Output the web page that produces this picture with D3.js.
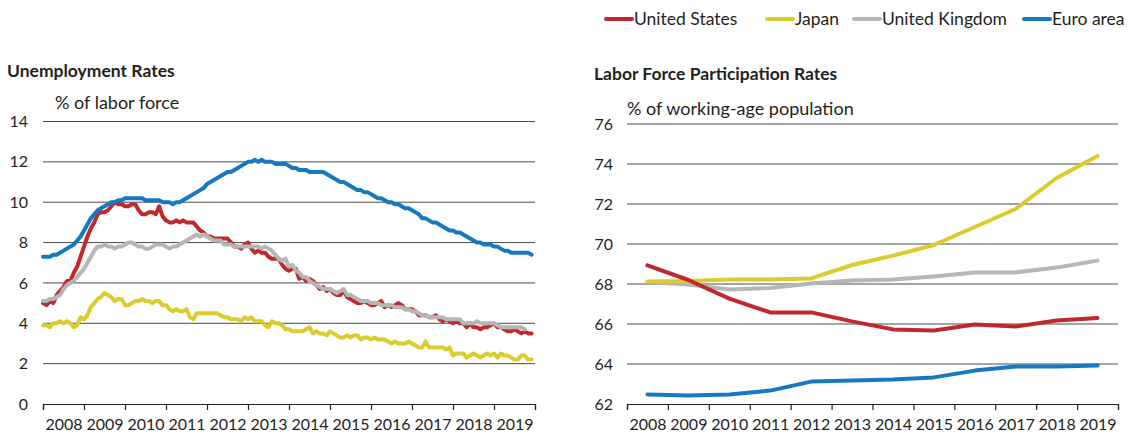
<!DOCTYPE html>
<html>
<head>
<meta charset="utf-8">
<script src="https://d3js.org/d3.v7.min.js"></script>
<style>
  body { margin: 0; background: #fff; }
  svg text { font-family: Lato, "Noto Sans", sans-serif; fill: #231f20; }
</style>
</head>
<body>
<div id="chart"></div>
<script>
// monthly unemployment rates, Jan 2008 onwards (% of labor force)
const usUnemp = [
  5.0, 4.9, 5.1, 5.0, 5.4, 5.6, 5.8, 6.1, 6.1, 6.5, 6.8, 7.3,
  7.8, 8.3, 8.7, 9.0, 9.4, 9.5, 9.5, 9.6, 9.8, 10.0, 9.9, 9.9,
  9.8, 9.8, 9.9, 9.9, 9.6, 9.4, 9.4, 9.5, 9.5, 9.4, 9.8, 9.3,
  9.1, 9.0, 9.0, 9.1, 9.0, 9.1, 9.0, 9.0, 9.0, 8.8, 8.6, 8.5,
  8.3, 8.3, 8.2, 8.2, 8.2, 8.2, 8.2, 8.0, 7.8, 7.8, 7.7, 7.9,
  8.0, 7.7, 7.5, 7.6, 7.5, 7.5, 7.3, 7.2, 7.2, 7.2, 6.9, 6.7,
  6.6, 6.7, 6.7, 6.2, 6.3, 6.1, 6.2, 6.1, 5.9, 5.7, 5.8, 5.6,
  5.7, 5.5, 5.4, 5.4, 5.6, 5.3, 5.2, 5.1, 5.0, 5.0, 5.1, 5.0,
  4.9, 4.9, 5.0, 5.1, 4.8, 4.9, 4.8, 4.9, 5.0, 4.9, 4.7, 4.7,
  4.7, 4.6, 4.4, 4.4, 4.4, 4.3, 4.3, 4.4, 4.2, 4.1, 4.2, 4.1,
  4.0, 4.1, 4.0, 4.0, 3.8, 4.0, 3.8, 3.8, 3.7, 3.8, 3.8, 3.9,
  4.0, 3.8, 3.8, 3.7, 3.6, 3.6, 3.7, 3.6, 3.5, 3.6, 3.5, 3.5
];
const jpUnemp = [
  3.9, 3.9, 3.8, 4.0, 4.0, 4.1, 4.0, 4.1, 4.0, 3.8, 3.9, 4.3,
  4.2, 4.4, 4.8, 5.0, 5.2, 5.3, 5.5, 5.4, 5.3, 5.1, 5.2, 5.2,
  4.9, 4.9, 5.0, 5.1, 5.1, 5.2, 5.1, 5.1, 5.0, 5.1, 5.1, 4.9,
  4.9, 4.7, 4.6, 4.7, 4.6, 4.6, 4.7, 4.3, 4.2, 4.5, 4.5, 4.5,
  4.5, 4.5, 4.5, 4.5, 4.4, 4.3, 4.3, 4.2, 4.2, 4.2, 4.1, 4.3,
  4.2, 4.3, 4.1, 4.1, 4.1, 3.9, 3.8, 4.1, 4.0, 4.0, 3.9, 3.7,
  3.7, 3.6, 3.6, 3.6, 3.6, 3.7, 3.8, 3.5, 3.6, 3.5, 3.5, 3.4,
  3.6, 3.5, 3.4, 3.3, 3.3, 3.4, 3.3, 3.4, 3.4, 3.2, 3.3, 3.3,
  3.2, 3.3, 3.2, 3.2, 3.2, 3.1, 3.0, 3.1, 3.0, 3.0, 3.0, 3.1,
  3.0, 2.9, 2.8, 2.8, 3.1, 2.8, 2.8, 2.8, 2.8, 2.8, 2.7, 2.8,
  2.4, 2.5, 2.5, 2.5, 2.3, 2.4, 2.5, 2.4, 2.3, 2.4, 2.5, 2.4,
  2.5, 2.3, 2.5, 2.4, 2.4, 2.3, 2.2, 2.2, 2.4, 2.4, 2.2, 2.2
];
const ukUnemp = [
  5.1, 5.1, 5.2, 5.2, 5.3, 5.4, 5.7, 5.9, 6.0, 6.1, 6.3, 6.5,
  6.7, 7.0, 7.3, 7.6, 7.8, 7.8, 7.9, 7.8, 7.8, 7.7, 7.8, 7.8,
  7.9, 8.0, 8.0, 7.9, 7.8, 7.8, 7.7, 7.7, 7.8, 7.9, 7.9, 7.9,
  7.8, 7.7, 7.8, 7.8, 7.9, 8.0, 8.1, 8.2, 8.3, 8.4, 8.3, 8.4,
  8.3, 8.2, 8.1, 8.1, 8.1, 7.9, 7.9, 7.9, 7.8, 7.8, 7.8, 7.8,
  7.8, 7.8, 7.8, 7.8, 7.7, 7.8, 7.7, 7.6, 7.4, 7.2, 7.1, 7.2,
  6.8, 6.9, 6.6, 6.5, 6.3, 6.3, 6.1, 6.0, 5.9, 5.8, 5.7, 5.7,
  5.7, 5.6, 5.5, 5.6, 5.7, 5.4, 5.4, 5.3, 5.2, 5.1, 5.1, 5.1,
  5.0, 5.0, 5.0, 4.9, 4.9, 4.9, 4.9, 4.8, 4.8, 4.8, 4.7, 4.7,
  4.6, 4.6, 4.5, 4.4, 4.4, 4.3, 4.3, 4.3, 4.3, 4.3, 4.2, 4.2,
  4.2, 4.2, 4.2, 4.0, 4.0, 4.0, 4.0, 4.1, 4.0, 4.0, 4.0, 4.0,
  4.0, 3.9, 3.8, 3.8, 3.8, 3.8, 3.8, 3.8, 3.8, 3.7
];
const euUnemp = [
  7.3, 7.3, 7.3, 7.4, 7.4, 7.5, 7.6, 7.7, 7.8, 7.9, 8.1, 8.3,
  8.6, 8.9, 9.2, 9.4, 9.6, 9.7, 9.8, 9.9, 10.0, 10.0, 10.1, 10.1,
  10.2, 10.2, 10.2, 10.2, 10.2, 10.2, 10.1, 10.1, 10.1, 10.1, 10.1, 10.0,
  10.0, 10.0, 9.9, 10.0, 10.0, 10.1, 10.2, 10.3, 10.4, 10.5, 10.6, 10.7,
  10.9, 11.0, 11.1, 11.2, 11.3, 11.4, 11.5, 11.5, 11.6, 11.7, 11.8, 11.9,
  12.0, 12.0, 12.1, 12.0, 12.1, 12.0, 12.0, 12.0, 11.9, 11.9, 11.9, 11.9,
  11.8, 11.7, 11.7, 11.6, 11.6, 11.6, 11.5, 11.5, 11.5, 11.5, 11.5, 11.4,
  11.3, 11.2, 11.1, 11.0, 11.0, 10.9, 10.8, 10.7, 10.6, 10.6, 10.5, 10.5,
  10.4, 10.3, 10.2, 10.2, 10.1, 10.0, 10.0, 9.9, 9.9, 9.8, 9.7, 9.7,
  9.6, 9.5, 9.4, 9.2, 9.2, 9.1, 9.0, 9.0, 8.9, 8.8, 8.7, 8.6,
  8.6, 8.5, 8.5, 8.4, 8.3, 8.2, 8.1, 8.0, 8.0, 7.9, 7.9, 7.9,
  7.8, 7.8, 7.7, 7.6, 7.6, 7.5, 7.5, 7.5, 7.5, 7.5, 7.5, 7.4
];

// annual labor force participation (% of working-age population)
const years = [2008, 2009, 2010, 2011, 2012, 2013, 2014, 2015, 2016, 2017, 2018, 2019];
const usLfp = [68.93, 68.2, 67.27, 66.58, 66.58, 66.13, 65.73, 65.68, 65.97, 65.87, 66.18, 66.3];
const jpLfp = [68.13, 68.15, 68.22, 68.23, 68.28, 68.95, 69.42, 69.95, 70.85, 71.75, 73.3, 74.4];
const ukLfp = [68.1, 67.97, 67.72, 67.8, 68.03, 68.17, 68.22, 68.38, 68.58, 68.58, 68.82, 69.17];
const euLfp = [62.48, 62.43, 62.48, 62.67, 63.12, 63.17, 63.22, 63.33, 63.67, 63.87, 63.87, 63.92];

const unempTicks = [0, 2, 4, 6, 8, 10, 12, 14];
const lfpTicks = [62, 64, 66, 68, 70, 72, 74, 76];

const seriesNames = ["United States", "Japan", "United Kingdom", "Euro area"];
const seriesColors = ["#c0282e", "#dccb2c", "#b5b7b6", "#1479c0"];

const W = 1128, H = 434;
const svg = d3.select("#chart").append("svg")
  .attr("width", W).attr("height", H);

// legend
const legendX = [604, 765, 852, 1022];
seriesNames.forEach((name, i) => {
  const g = svg.append("g").attr("transform", `translate(${legendX[i]},19)`);
  g.append("line").attr("x1", 2).attr("x2", 28).attr("y1", 0).attr("y2", 0)
    .attr("stroke", seriesColors[i]).attr("stroke-width", 4).attr("stroke-linecap", "round");
  g.append("text").attr("x", 30).attr("y", 0).attr("dy", "0.35em")
    .style("font-size", "17.5px").text(name);
});

function panel(opts) {
  const x = d3.scaleLinear().domain([2008, 2020]).range([opts.x0, opts.x1]);
  const y = d3.scaleLinear().domain(opts.yDomain).range([404, opts.yTop]);
  const g = svg.append("g");

  g.append("text").attr("x", opts.titleX).attr("y", opts.titleY).attr("dy", "0.35em")
    .style("font-size", "17.5px").style("font-weight", "bold").text(opts.title);
  g.append("text").attr("x", opts.subX).attr("y", opts.subY).attr("dy", "0.35em")
    .style("font-size", "18px").text(opts.sub);

  // gridlines
  g.selectAll(".grid").data(opts.ticks.slice(1)).enter().append("line")
    .attr("x1", opts.x0).attr("x2", opts.x1)
    .attr("y1", d => y(d)).attr("y2", d => y(d))
    .attr("stroke", "#4a4a4a").attr("stroke-width", 1);

  // y labels
  g.selectAll(".ylab").data(opts.ticks).enter().append("text")
    .attr("x", opts.labelX).attr("y", d => y(d)).attr("dy", "0.35em")
    .attr("text-anchor", "end").style("font-size", "16px").text(d => d);

  // x axis: year boundary ticks, labels centred in each year
  const axis = g.append("g").attr("transform", "translate(0,404)")
    .call(d3.axisBottom(x).tickValues(d3.range(2008, 2021)).tickSize(6).tickFormat(""));
  axis.select(".domain").attr("stroke", "#231f20").attr("stroke-width", 1.2);
  axis.selectAll(".tick line").attr("stroke", "#231f20").attr("stroke-width", 1.2);

  const labels = g.append("g").attr("transform", "translate(0,404)")
    .call(d3.axisBottom(x).tickValues(d3.range(2008, 2020).map(v => v + 0.5))
      .tickSize(0).tickPadding(15).tickFormat(d => Math.floor(d)));
  labels.select(".domain").remove();
  labels.selectAll("text").style("font-size", "16px")
    .style("font-family", "Lato, 'Noto Sans', sans-serif").attr("fill", "#231f20");

  const line = d3.line().x(d => x(d[0])).y(d => y(d[1]));
  opts.series.forEach((s, i) => {
    g.append("path").datum(s.data).attr("d", line)
      .attr("fill", "none").attr("stroke", s.color).attr("stroke-width", 4)
      .attr("stroke-linejoin", "round").attr("stroke-linecap", "round");
  });
}

const monthly = arr => arr.map((v, i) => [2008 + i / 12, v]);
const annual = arr => arr.map((v, i) => [years[i] + 0.5, v]);

panel({
  x0: 43, x1: 535, yTop: 121.5, yDomain: [0, 14], ticks: unempTicks, labelX: 28,
  title: "Unemployment Rates", titleX: 7, titleY: 71,
  sub: "% of labor force", subX: 55, subY: 103,
  series: [
    { data: monthly(usUnemp), color: seriesColors[0] },
    { data: monthly(jpUnemp), color: seriesColors[1] },
    { data: monthly(ukUnemp), color: seriesColors[2] },
    { data: monthly(euUnemp), color: seriesColors[3] }
  ]
});

panel({
  x0: 627, x1: 1118, yTop: 124, yDomain: [62, 76], ticks: lfpTicks, labelX: 613,
  title: "Labor Force Participation Rates", titleX: 594, titleY: 74,
  sub: "% of working-age population", subX: 627, subY: 109,
  series: [
    { data: annual(ukLfp), color: seriesColors[2] },
    { data: annual(jpLfp), color: seriesColors[1] },
    { data: annual(usLfp), color: seriesColors[0] },
    { data: annual(euLfp), color: seriesColors[3] }
  ]
});
</script>
</body>
</html>
